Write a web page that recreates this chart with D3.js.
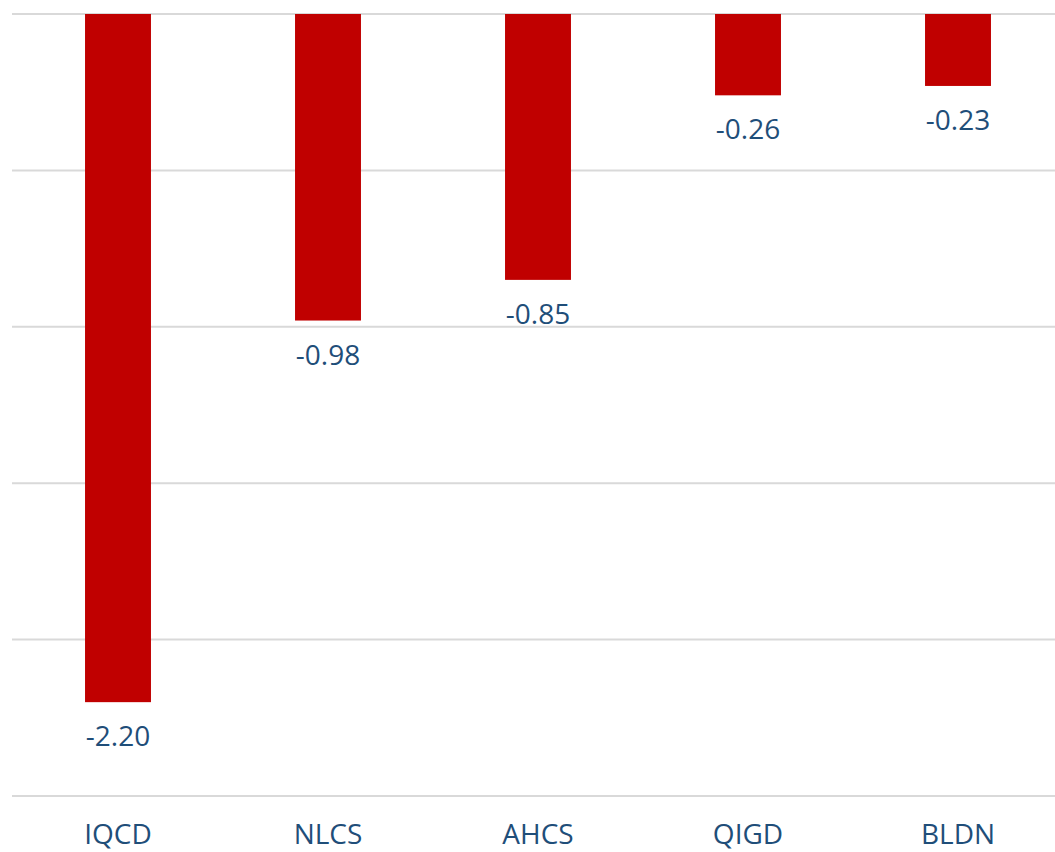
<!DOCTYPE html>
<html><head><meta charset="utf-8">
<script src="https://cdn.jsdelivr.net/npm/d3@7"></script>
<style>body{margin:0;background:#fff;} svg{display:block;}</style>
</head><body>
<script>
const categories = ["IQCD", "NLCS", "AHCS", "QIGD", "BLDN"];
const values = [-2.20, -0.98, -0.85, -0.26, -0.23];
const gridTicks = [0, -0.5, -1.0, -1.5, -2.0, -2.5];

const W = 1055, H = 852;
const svg = d3.select("body").append("svg").attr("width", W).attr("height", H);

const x = d3.scaleBand().domain(categories).range([13, 1063]).paddingInner(0.686).paddingOuter(0.343);
const y = d3.scaleLinear().domain([0, -2.5]).range([14, 796]);

svg.append("g").selectAll("line").data(gridTicks).join("line")
  .attr("x1", 12).attr("x2", W).attr("y1", d => y(d)).attr("y2", d => y(d))
  .attr("stroke", "#d9d9d9").attr("stroke-width", 2);

svg.append("g").selectAll("rect").data(values).join("rect")
  .attr("x", (d, i) => x(categories[i]))
  .attr("width", x.bandwidth())
  .attr("y", d => y(0))
  .attr("height", d => y(d) - y(0))
  .attr("fill", "#C00000");

const font = "'Open Sans', 'Noto Sans', sans-serif";
svg.append("g").selectAll("text").data(values).join("text")
  .attr("x", (d, i) => x(categories[i]) + x.bandwidth() / 2)
  .attr("y", d => y(d) + 44)
  .attr("text-anchor", "middle")
  .attr("font-family", font).attr("font-size", 28)
  .attr("fill", "#1F4E79")
  .text(d => d.toFixed(2));

const xAxis = d3.axisBottom(x).tickSize(0).tickPadding(0);
const gx = svg.append("g").attr("transform", `translate(0,${y(-2.5)})`).call(xAxis);
gx.select(".domain").remove();
gx.selectAll("text")
  .attr("dy", null).attr("y", 48)
  .attr("font-family", font).attr("font-size", 28)
  .attr("fill", "#1F4E79");
</script>
</body></html>
